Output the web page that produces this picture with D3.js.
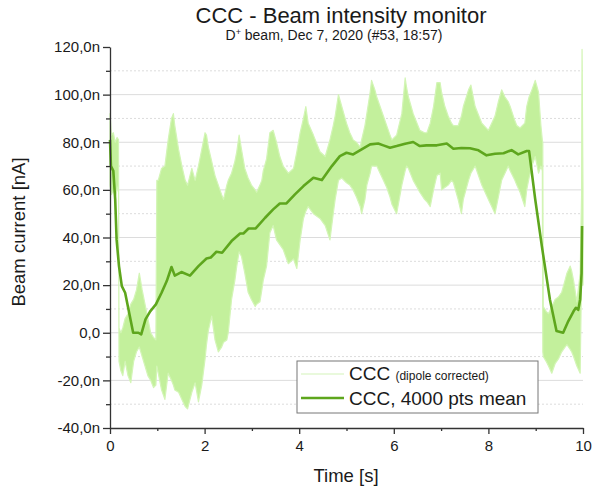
<!DOCTYPE html>
<html>
<head>
<meta charset="utf-8">
<script src="https://cdn.jsdelivr.net/npm/d3@7"></script>
<style>
	body { margin: 0; background: #fff; }
	text { font-family: "Liberation Sans", Arial, sans-serif; fill: #1a1a1a; }
	.axis path, .axis line { stroke: #333; stroke-width: 1.3; }
	.grid-major { stroke: #dcdcdc; stroke-width: 1; }
	.grid-minor { stroke: #dcdcdc; stroke-width: 1; stroke-dasharray: 2 2; }
</style>
</head>
<body>
<svg id="chart" width="596" height="490"></svg>
<script>
// Raw CCC signal (dipole corrected), read as an envelope: time [s], upper and lower bound [nA]
const rawTime = [
	0.00, 0.03, 0.07, 0.11, 0.15, 0.18,
	0.19, 0.23, 0.27, 0.32, 0.38, 0.44, 0.50, 0.56, 0.62, 0.68, 0.74, 0.80, 0.86, 0.92, 0.97,
	0.99, 1.02, 1.09, 1.16, 1.23, 1.30, 1.34, 1.37, 1.45, 1.52, 1.59, 1.64, 1.73, 1.80, 1.87, 1.94,
	2.01, 2.04, 2.08, 2.15, 2.22, 2.29, 2.36, 2.40, 2.47, 2.50, 2.57, 2.64, 2.68, 2.73, 2.78, 2.85,
	2.92, 2.99, 3.07, 3.10, 3.17, 3.21, 3.24, 3.31, 3.38, 3.45, 3.52, 3.59, 3.66, 3.77, 3.88, 3.95,
	4.02, 4.09, 4.14, 4.19, 4.30, 4.44, 4.55, 4.65, 4.72, 4.76, 4.83, 4.90, 5.00, 5.07, 5.14, 5.21,
	5.29, 5.32, 5.39, 5.43, 5.50, 5.53, 5.60, 5.64, 5.71, 5.78, 5.85, 5.92, 5.96, 6.06, 6.17, 6.24,
	6.27, 6.31, 6.41, 6.55, 6.65, 6.70, 6.77, 6.84, 6.91, 6.98, 7.01, 7.08, 7.15, 7.22, 7.26, 7.36,
	7.43, 7.47, 7.58, 7.63, 7.72, 7.86, 8.00, 8.07, 8.14, 8.21, 8.28, 8.35, 8.42, 8.46, 8.56, 8.60,
	8.67, 8.77, 8.81, 8.86, 8.92, 8.99, 9.06, 9.11, 9.14, 9.15,
	9.16, 9.22, 9.27, 9.34, 9.41, 9.48, 9.55, 9.62, 9.66, 9.73, 9.76, 9.80, 9.87, 9.94, 9.97, 9.98, 10.0
];
const rawHigh = [
	92, 83, 84, 80, 82, 81,
	2, 0, 2, 6, 8, 12, 14, 18, 25, 18, 12, 6, 0, -2, -3,
	64, 64, 69, 70, 81, 90, 92, 87, 77, 70, 64, 62, 69, 64, 70, 77,
	84, 83, 78, 72, 66, 62, 58, 56, 62, 64, 67, 72, 76, 83, 77, 69,
	65, 62, 60, 59, 62, 64, 68, 73, 84, 85, 80, 74, 70, 67, 69, 76,
	84, 90, 95, 88, 83, 76, 74, 81, 87, 91, 100, 95, 88, 84, 81, 80,
	78, 81, 87, 92, 101, 106, 102, 99, 95, 91, 87, 83, 81, 83, 92, 107,
	103, 99, 92, 85, 84, 84, 88, 95, 105, 105, 101, 95, 91, 88, 87, 87,
	91, 95, 102, 104, 95, 88, 85, 88, 91, 97, 102, 99, 97, 95, 89, 87,
	86, 88, 95, 99, 102, 106, 101, 87, 81, 80,
	11, 9, 8, 11, 14, 15, 17, 22, 25, 28, 26, 22, 13, 25, 58, 119, 60
];
const rawLow = [
	62, 58, 60, 57, 60, 62,
	-12, -16, -18, -12, -18, -21, -12, -8, -6, -10, -14, -18, -20, -23, -22,
	-14, -17, -24, -28, -17, -20, -22, -24, -25, -28, -31, -32, -25, -21, -29, -22,
	-11, -5, 1, 7, -3, -8, -6, -4, -3, 0, 14, 22, 28, 34, 32, 25,
	17, 14, 11, 12, 13, 18, 22, 28, 42, 45, 39, 37, 35, 29, 31, 27,
	39, 48, 51, 53, 50, 48, 45, 39, 50, 56, 64, 65, 63, 62, 60, 57,
	53, 50, 56, 62, 67, 70, 70, 70, 67, 64, 61, 57, 54, 50, 62, 68,
	70, 69, 64, 59, 56, 55, 53, 60, 66, 67, 60, 61, 62, 64, 63, 56,
	50, 56, 64, 67, 70, 62, 56, 53, 50, 57, 64, 67, 70, 68, 64, 62,
	59, 53, 60, 65, 70, 74, 67, 70, 68, -8,
	-10, -12, -14, -17, -13, -11, -8, -6, -5, -7, -8, -10, -14, -17, 25, 25, 20
];

// CCC, 4000 points running mean
const meanTime = [
	0.00, 0.02, 0.07, 0.11, 0.14, 0.19, 0.25, 0.32, 0.49, 0.60, 0.66, 0.75, 0.85, 0.97,
	1.09, 1.20, 1.30, 1.37, 1.51, 1.69, 1.87, 2.04, 2.13, 2.25, 2.37, 2.57, 2.75, 2.82,
	2.93, 3.08, 3.28, 3.45, 3.59, 3.73, 3.91, 4.09, 4.30, 4.48, 4.69, 4.86, 5.00, 5.14,
	5.32, 5.50, 5.67, 5.78, 5.92, 6.06, 6.24, 6.41, 6.55, 6.69, 6.91, 7.12, 7.26, 7.43,
	7.61, 7.79, 7.96, 8.14, 8.32, 8.49, 8.63, 8.81, 8.86, 8.99, 9.13, 9.30, 9.44, 9.58,
	9.69, 9.80, 9.85, 9.90, 9.94, 9.97, 9.98
];
const meanCurrent = [
	81, 70, 68, 56, 39, 28, 19.6, 16.8, 0, 0, -0.7, 5.6, 9, 11.9,
	16.8, 21.7, 27.6, 24, 25.5, 24, 28, 31.2, 31.6, 34, 33.6, 38.5, 41.7, 41.7,
	43.8, 43.8, 48.3, 51.8, 54.3, 54.3, 58.1, 61.6, 65.1, 64.1, 70, 74.2, 75.6, 74.9,
	77, 79.1, 79.5, 78.7, 77.7, 78.4, 79.4, 80.1, 78.4, 78.7, 78.7, 79.5, 77.3, 77.6,
	77.5, 76.6, 74.5, 75.2, 75.4, 76.7, 74.9, 76.3, 76.3, 56, 36.4, 14, 0.7, 0,
	4.9, 9, 10.5, 9.6, 14, 25, 44.8
];

// Axis ticks
const xTicks = [0, 2, 4, 6, 8, 10];
const xMinorTicks = [1, 3, 5, 7, 9];
const yTicks = [-40, -20, 0, 20, 40, 60, 80, 100, 120];
const yTickLabels = ["-40,0n", "-20,0n", "0,0", "20,0n", "40,0n", "60,0n", "80,0n", "100,0n", "120,0n"];
const yMinorTicks = [-30, -10, 10, 30, 50, 70, 90, 110];

const rawColor = "#c3f09c";
const meanColor = "#5ea61d";

function drawChart() {
	const svg = d3.select("#chart");

	const plot = { left: 110, right: 583, top: 47, bottom: 428 };

	const scaleX = d3.scaleLinear().domain([0, 10]).range([plot.left, plot.right]);
	const scaleY = d3.scaleLinear().domain([-40, 120]).range([plot.bottom, plot.top]);

	// Grid lines: solid at major ticks, dotted at minor ticks
	const grid = svg.append("g");
	grid.selectAll("line.grid-major")
		.data(yTicks.filter(v => v > -40 && v < 120))
		.enter().append("line")
		.attr("class", "grid-major")
		.attr("x1", plot.left).attr("x2", plot.right)
		.attr("y1", d => scaleY(d)).attr("y2", d => scaleY(d));
	grid.selectAll("line.grid-minor")
		.data(yMinorTicks)
		.enter().append("line")
		.attr("class", "grid-minor")
		.attr("x1", plot.left).attr("x2", plot.right)
		.attr("y1", d => scaleY(d)).attr("y2", d => scaleY(d));

	// Raw signal band
	const rawArea = d3.area()
		.x(i => scaleX(rawTime[i]))
		.y0(i => scaleY(rawLow[i]))
		.y1(i => scaleY(rawHigh[i]));

	svg.append("path")
		.datum(d3.range(rawTime.length))
		.attr("d", rawArea)
		.attr("fill", rawColor)
		.attr("stroke", "#d3f5b6")
		.attr("stroke-width", 1.2)
		.attr("stroke-linejoin", "round");

	// Mean curve
	const meanLine = d3.line()
		.x(i => scaleX(meanTime[i]))
		.y(i => scaleY(meanCurrent[i]));

	svg.append("path")
		.datum(d3.range(meanTime.length))
		.attr("d", meanLine)
		.attr("fill", "none")
		.attr("stroke", meanColor)
		.attr("stroke-width", 2.6)
		.attr("stroke-linejoin", "round");

	// Axes
	const yAxis = svg.append("g")
		.attr("class", "axis")
		.attr("transform", `translate(${plot.left},0)`)
		.call(d3.axisLeft(scaleY)
			.tickValues(yTicks)
			.tickSize(7)
			.tickSizeOuter(0)
			.tickFormat((d, i) => yTickLabels[i]));
	yAxis.append("g")
		.call(d3.axisLeft(scaleY).tickValues(yMinorTicks).tickSize(4).tickFormat(""))
		.select(".domain").remove();

	const xAxis = svg.append("g")
		.attr("class", "axis")
		.attr("transform", `translate(0,${plot.bottom})`)
		.call(d3.axisBottom(scaleX)
			.tickValues(xTicks)
			.tickSize(6)
			.tickSizeOuter(0)
			.tickFormat(d3.format("d")));
	xAxis.append("g")
		.call(d3.axisBottom(scaleX).tickValues(xMinorTicks).tickSize(3).tickFormat(""))
		.select(".domain").remove();

	svg.selectAll(".axis text")
		.style("font-size", "15px")
		.style("font-family", "\"Liberation Sans\", Arial, sans-serif")
		.attr("fill", "#1a1a1a");
	yAxis.selectAll("text").attr("x", -10);
	xAxis.selectAll("text").attr("y", 12);

	// Titles
	svg.append("text")
		.attr("x", 341).attr("y", 23)
		.attr("text-anchor", "middle")
		.style("font-size", "22px")
		.text("CCC - Beam intensity monitor");

	const subtitle = svg.append("text")
		.attr("x", 334).attr("y", 40)
		.attr("text-anchor", "middle")
		.style("font-size", "14px");
	subtitle.append("tspan").text("D");
	subtitle.append("tspan").attr("dy", -5).style("font-size", "9px").text("+");
	subtitle.append("tspan").attr("dy", 5).text(" beam, Dec 7, 2020 (#53, 18:57)");

	svg.append("text")
		.attr("transform", "translate(25,232) rotate(-90)")
		.attr("text-anchor", "middle")
		.style("font-size", "18.5px")
		.text("Beam current [nA]");

	svg.append("text")
		.attr("x", 346).attr("y", 482)
		.attr("text-anchor", "middle")
		.style("font-size", "18.5px")
		.text("Time [s]");

	// Legend
	const legend = svg.append("g");
	legend.append("rect")
		.attr("x", 297).attr("y", 361)
		.attr("width", 241).attr("height", 52)
		.attr("fill", "#fff")
		.attr("stroke", "#777")
		.attr("stroke-width", 1);
	legend.append("line")
		.attr("x1", 301).attr("x2", 344)
		.attr("y1", 374).attr("y2", 374)
		.attr("stroke", "#e2f7d0").attr("stroke-width", 1.5);
	legend.append("line")
		.attr("x1", 301).attr("x2", 344)
		.attr("y1", 398).attr("y2", 398)
		.attr("stroke", meanColor).attr("stroke-width", 2.6);

	const label1 = legend.append("text")
		.attr("x", 349).attr("y", 380)
		.style("font-size", "19px");
	label1.append("tspan").text("CCC ");
	label1.append("tspan").style("font-size", "12px").text("(dipole corrected)");

	legend.append("text")
		.attr("x", 349).attr("y", 405)
		.style("font-size", "19px")
		.text("CCC, 4000 pts mean");
}

drawChart();
</script>
</body>
</html>
